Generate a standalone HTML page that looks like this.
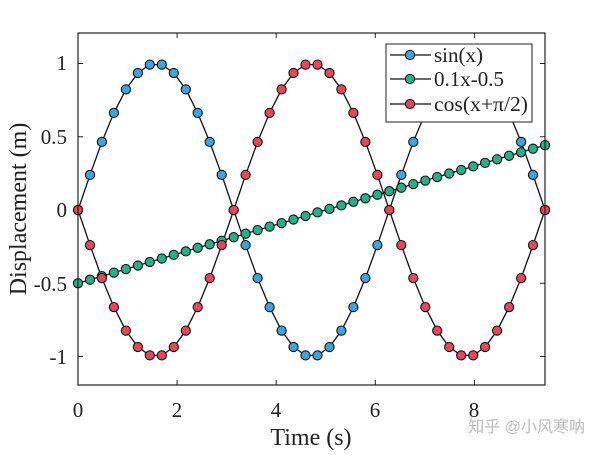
<!DOCTYPE html>
<html><head><meta charset="utf-8"><style>
body{margin:0;background:#fff;width:600px;height:450px;overflow:hidden}
text{font-family:"Liberation Serif",serif;fill:#222}
</style></head><body>
<svg id="s" width="600" height="450" xmlns="http://www.w3.org/2000/svg">
<g id="plot"></g>
<rect x="78" y="33" width="467" height="352" fill="none" stroke="#222" stroke-width="1.2"/>
<g font-size="21" text-anchor="end">
<text x="67" y="70">1</text><text x="67" y="144">0.5</text><text x="67" y="217">0</text><text x="67" y="291">-0.5</text><text x="67" y="364">-1</text>
</g>
<g font-size="21" text-anchor="middle">
<text x="78" y="417">0</text><text x="177" y="417">2</text><text x="276" y="417">4</text><text x="375" y="417">6</text><text x="474" y="417">8</text>
</g>
<text x="311" y="445" font-size="24" text-anchor="middle">Time (s)</text>
<text transform="translate(26,209) rotate(-90)" font-size="24" text-anchor="middle">Displacement (m)</text>
<g>
<rect x="386" y="44" width="146" height="78" fill="#fff" stroke="#222" stroke-width="1"/>
<line x1="390" y1="55" x2="431" y2="55" stroke="#111" stroke-width="1.2"/><circle cx="410" cy="55" r="4.6" fill="#3aa6dd" stroke="#111"/>
<line x1="390" y1="79" x2="431" y2="79" stroke="#111" stroke-width="1.2"/><circle cx="410" cy="79" r="4.6" fill="#23b287" stroke="#111"/>
<line x1="390" y1="104" x2="431" y2="104" stroke="#111" stroke-width="1.2"/><circle cx="410" cy="104" r="4.6" fill="#e8455f" stroke="#111"/>
<text x="434" y="62" font-size="21">sin(x)</text>
<text x="434" y="86" font-size="21">0.1x-0.5</text>
<text x="434" y="111" font-size="21" textLength="94" lengthAdjust="spacingAndGlyphs">cos(x+π/2)</text>
</g>
<text x="585" y="432" font-size="16" text-anchor="end" style="font-family:'Liberation Sans','Noto Sans CJK SC',sans-serif;fill:#bbb">知乎 @小风寒呐</text>
</svg>
<script>
var g=document.getElementById('plot');
var X0=78,XW=467/(3*Math.PI),Y0=210,YS=146.5;
function px(x){return X0+x*XW}function py(y){return Y0-y*YS}
var h='';
[0,2,4,6,8].forEach(function(t){var x=px(t);h+='<line x1="'+x+'" y1="385" x2="'+x+'" y2="380" stroke="#222"/><line x1="'+x+'" y1="33" x2="'+x+'" y2="38" stroke="#222"/>';});
[-1,-0.5,0,0.5,1].forEach(function(t){var y=py(t);h+='<line x1="78" y1="'+y+'" x2="83" y2="'+y+'" stroke="#222"/><line x1="545" y1="'+y+'" x2="540" y2="'+y+'" stroke="#222"/>';});
var fs=[[function(x){return Math.sin(x)},'#3aa6dd'],[function(x){return 0.1*x-0.5},'#23b287'],[function(x){return -Math.sin(x)},'#e8455f']];
var N=39,st=Math.PI/13;
fs.forEach(function(f){var p='';for(var i=0;i<=N;i++){var x=i*st;p+=(i?'L':'M')+px(x).toFixed(1)+','+py(f[0](x)).toFixed(1);}
h+='<path d="'+p+'" fill="none" stroke="#111" stroke-width="1.3"/>';});
fs.forEach(function(f){for(var i=0;i<=N;i++){var x=i*st;h+='<circle cx="'+px(x).toFixed(1)+'" cy="'+py(f[0](x)).toFixed(1)+'" r="4.6" fill="'+f[1]+'" stroke="#111" stroke-width="1.1"/>';}});
g.innerHTML=h;
</script>
</body></html>
